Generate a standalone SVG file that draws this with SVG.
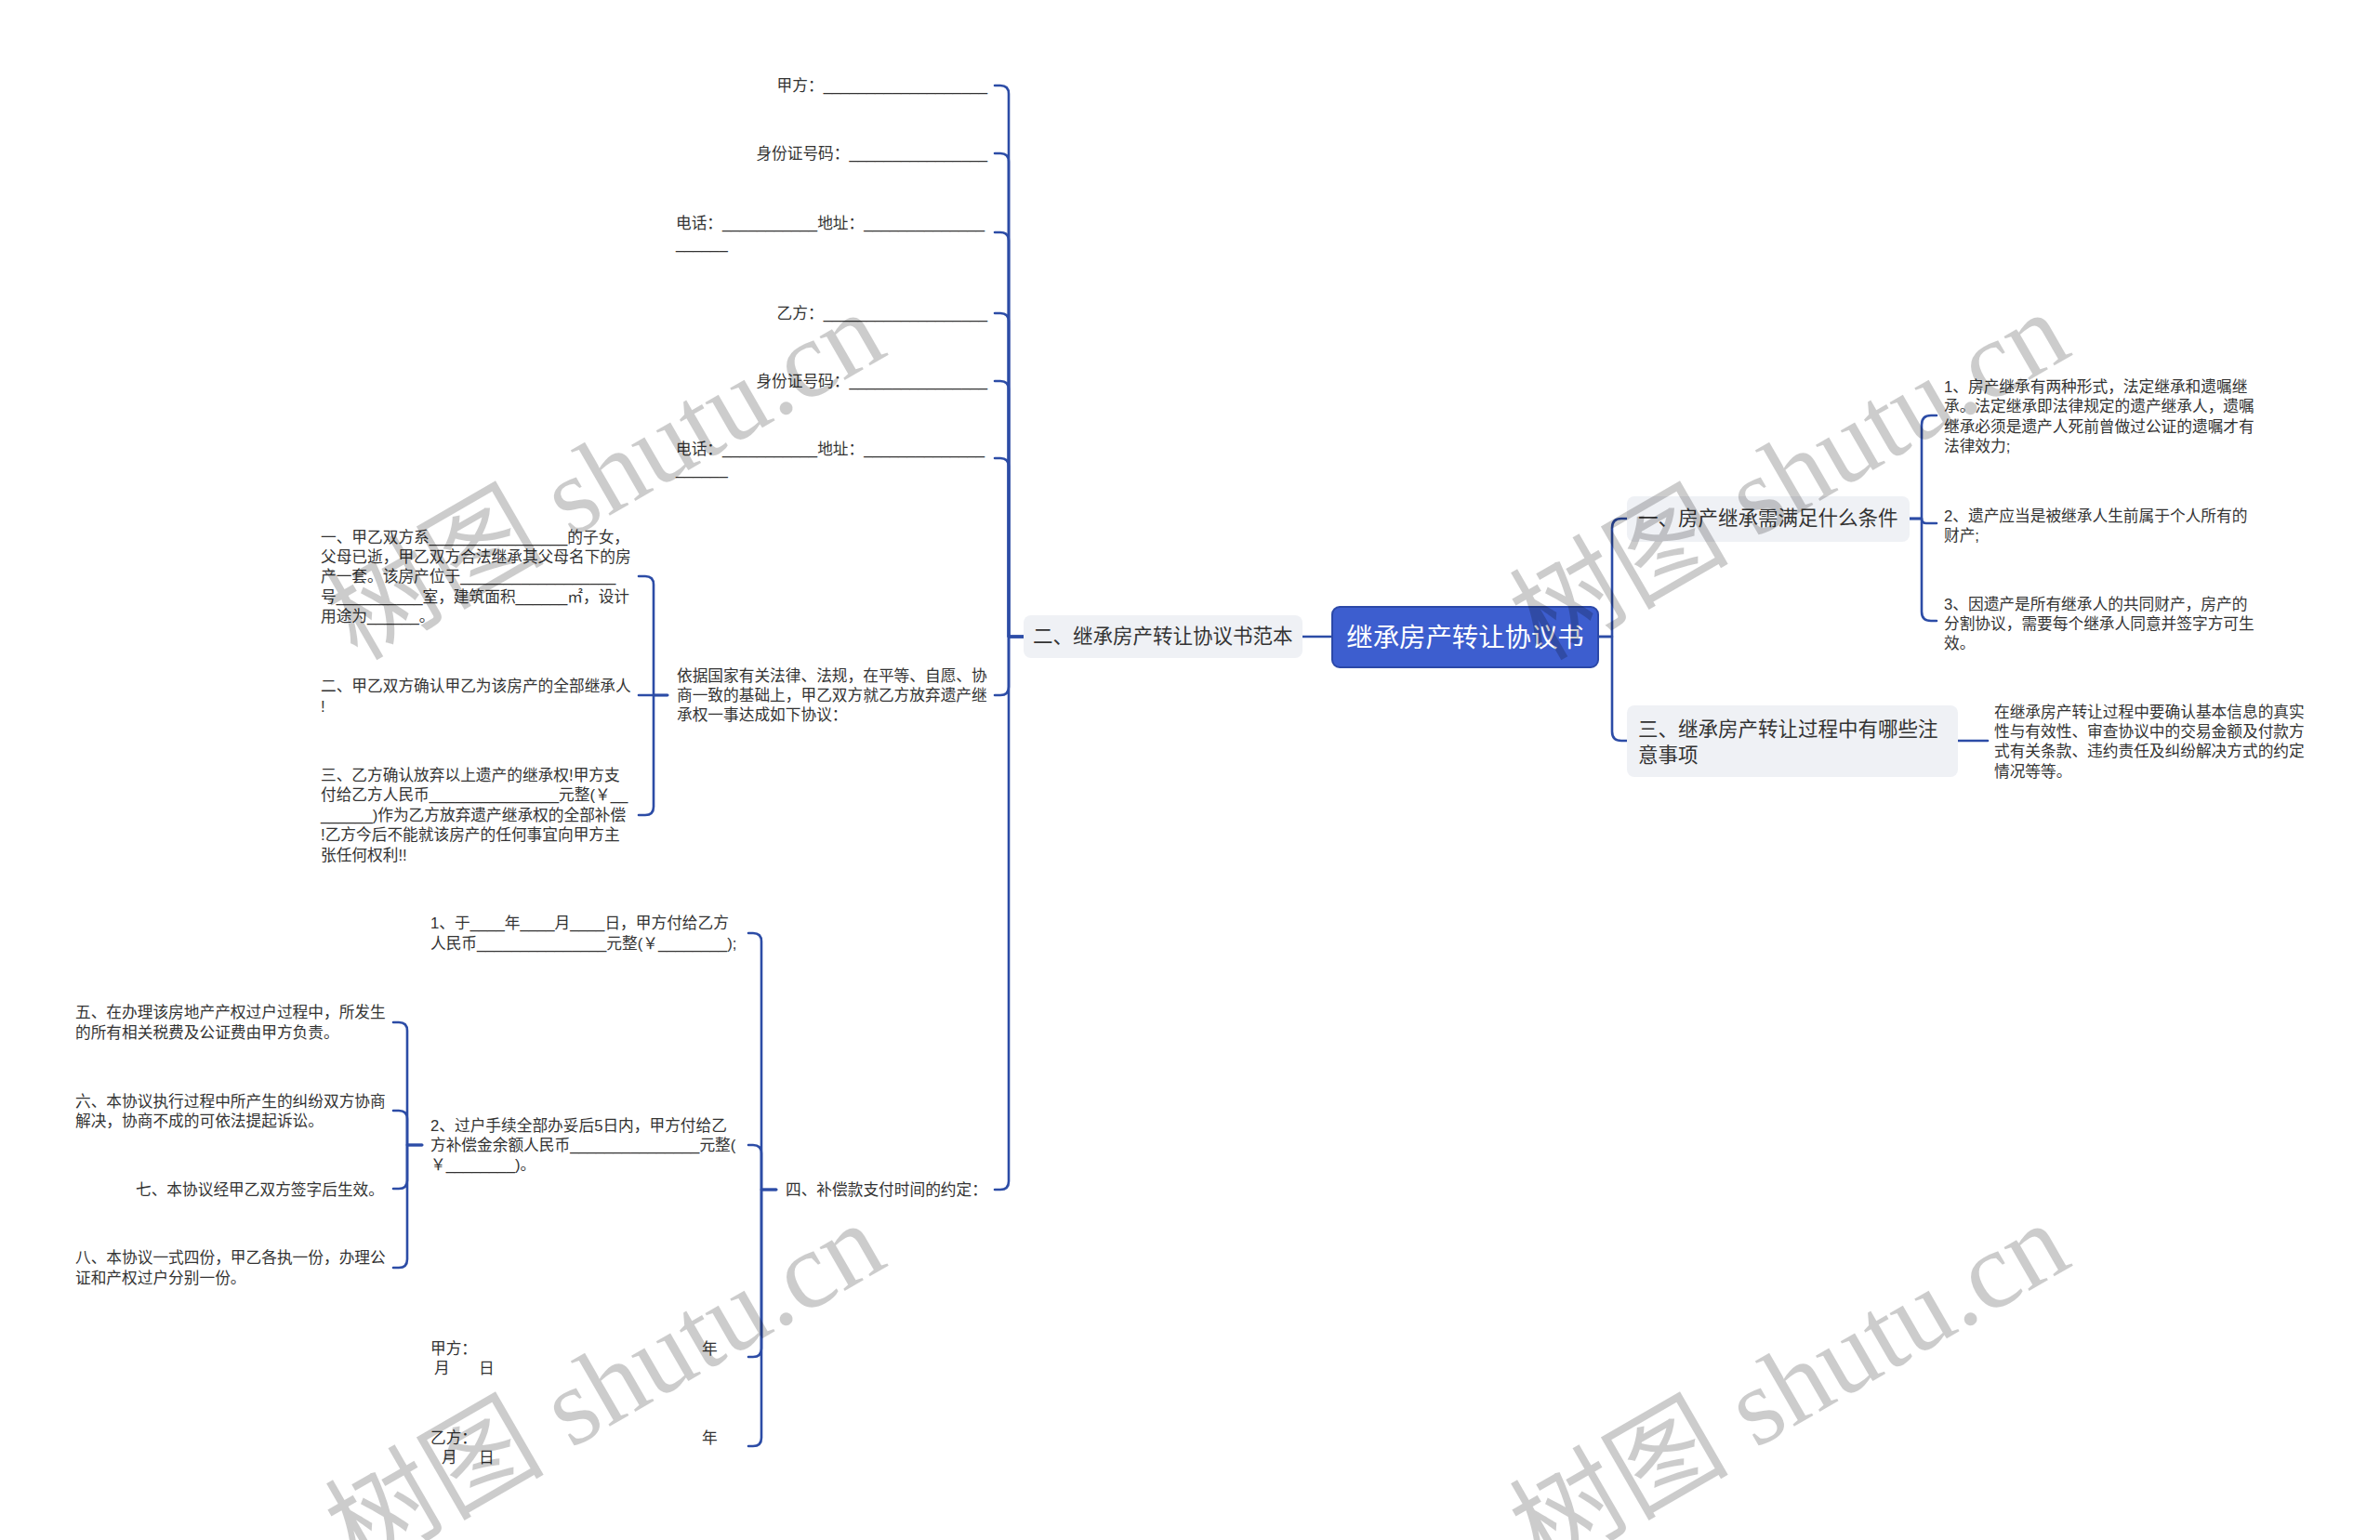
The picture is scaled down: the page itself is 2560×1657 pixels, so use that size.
<svg xmlns="http://www.w3.org/2000/svg" width="2560" height="1657" viewBox="0 0 2560 1657">
<style>
.t{font-family:"Liberation Sans","Noto Sans CJK SC",sans-serif;font-size:16.7px;fill:#333;dominant-baseline:central}
.n{font-family:"Liberation Sans","Noto Sans CJK SC",sans-serif;font-size:21.5px;fill:#333;dominant-baseline:central}
.r{font-family:"Liberation Sans","Noto Sans CJK SC",sans-serif;font-size:28.4px;fill:#fff;dominant-baseline:central;text-anchor:middle}
.box{fill:#eff1f5}
.c path{fill:none;stroke:#2c4ca6;stroke-width:2.6;stroke-linecap:round;stroke-linejoin:round}
.wm{font-family:"Liberation Serif","Noto Sans CJK SC",serif;font-size:118px;fill:#000;fill-opacity:0.2;text-anchor:middle;dominant-baseline:central}
</style>
<rect width="2560" height="1657" fill="#fff"/>
<g class="c" id="connectors">
<path d="M1719,685 H1734 V568 Q1734,558 1744,558 H1750"/>
<path d="M1719,685 H1734 V787 Q1734,797 1744,797 H1750"/>
<path d="M2054,558 H2067 V457 Q2067,447 2077,447 H2083"/>
<path d="M2054,558 H2067 Q2067,563 2072,563 H2083"/>
<path d="M2054,558 H2067 V658 Q2067,668 2077,668 H2083"/>
<path d="M2106,797 H2138"/>
<path d="M1433,685 H1401"/>
<path d="M1101,685 H1085 V101 Q1085,92 1076,92 H1070"/>
<path d="M1101,685 H1085 V174 Q1085,165 1076,165 H1070"/>
<path d="M1101,685 H1085 V259 Q1085,250 1076,250 H1070"/>
<path d="M1101,685 H1085 V346 Q1085,337 1076,337 H1070"/>
<path d="M1101,685 H1085 V419 Q1085,410 1076,410 H1070"/>
<path d="M1101,685 H1085 V502 Q1085,493 1076,493 H1070"/>
<path d="M1101,685 H1085 V739 Q1085,748 1076,748 H1070"/>
<path d="M1101,685 H1085 V1271 Q1085,1280 1076,1280 H1070"/>
<path d="M718,748 H703 V629 Q703,620 694,620 H687"/>
<path d="M718,748 H687"/>
<path d="M718,748 H703 V868 Q703,877 694,877 H687"/>
<path d="M835,1280 H819 V1013 Q819,1004 810,1004 H805"/>
<path d="M835,1280 H819 V1241 Q819,1232 810,1232 H805"/>
<path d="M835,1280 H819 V1451 Q819,1460 810,1460 H805"/>
<path d="M835,1280 H819 V1547 Q819,1556 810,1556 H805"/>
<path d="M454,1232 H438 V1109 Q438,1100 429,1100 H423"/>
<path d="M454,1232 H438 V1204 Q438,1195 429,1195 H423"/>
<path d="M454,1232 H438 V1270 Q438,1279 429,1279 H423"/>
<path d="M454,1232 H438 V1355 Q438,1364 429,1364 H423"/>
</g>
<g id="root"><rect x="1433" y="653" width="286" height="65" rx="8" fill="#3d5ecf" stroke="#2b48a8" stroke-width="2"/><text class="r" x="1576" y="686">继承房产转让协议书</text></g>
<g id="n1"><rect class="box" x="1750" y="534" width="304" height="49" rx="8"/><text class="n" x="1762" y="558">一、房产继承需满足什么条件</text></g>
<g id="n1c1"><text class="t" x="2091"><tspan x="2091" y="416">1、房产继承有两种形式，法定继承和遗嘱继</tspan><tspan x="2091" y="437">承。法定继承即法律规定的遗产继承人，遗嘱</tspan><tspan x="2091" y="459">继承必须是遗产人死前曾做过公证的遗嘱才有</tspan><tspan x="2091" y="480">法律效力;</tspan></text></g>
<g id="n1c2"><text class="t"><tspan x="2091" y="555">2、遗产应当是被继承人生前属于个人所有的</tspan><tspan x="2091" y="576">财产;</tspan></text></g>
<g id="n1c3"><text class="t"><tspan x="2091" y="650">3、因遗产是所有继承人的共同财产，房产的</tspan><tspan x="2091" y="671">分割协议，需要每个继承人同意并签字方可生</tspan><tspan x="2091" y="692">效。</tspan></text></g>
<g id="n3"><rect class="box" x="1750" y="759" width="356" height="77" rx="8"/><text class="n"><tspan x="1762" y="785">三、继承房产转让过程中有哪些注</tspan><tspan x="1762" y="813">意事项</tspan></text></g>
<g id="n3c1"><text class="t"><tspan x="2145" y="766">在继承房产转让过程中要确认基本信息的真实</tspan><tspan x="2145" y="787">性与有效性、审查协议中的交易金额及付款方</tspan><tspan x="2145" y="808">式有关条款、违约责任及纠纷解决方式的约定</tspan><tspan x="2145" y="830">情况等等。</tspan></text></g>
<g id="n2"><rect class="box" x="1101" y="662" width="300" height="46" rx="8"/><text class="n" x="1111" y="685">二、继承房产转让协议书范本</text></g>
<g id="a1"><text class="t" x="1062" y="92" text-anchor="end">甲方：___________________</text></g>
<g id="a2"><text class="t" x="1062" y="165" text-anchor="end">身份证号码：________________</text></g>
<g id="a3"><text class="t"><tspan x="727" y="240">电话：___________地址：______________</tspan><tspan x="727" y="262">______</tspan></text></g>
<g id="a4"><text class="t" x="1062" y="337" text-anchor="end">乙方：___________________</text></g>
<g id="a5"><text class="t" x="1062" y="410" text-anchor="end">身份证号码：________________</text></g>
<g id="a6"><text class="t"><tspan x="727" y="483">电话：___________地址：______________</tspan><tspan x="727" y="505">______</tspan></text></g>
<g id="a7"><text class="t"><tspan x="728" y="727">依据国家有关法律、法规，在平等、自愿、协</tspan><tspan x="728" y="748">商一致的基础上，甲乙双方就乙方放弃遗产继</tspan><tspan x="728" y="769">承权一事达成如下协议：</tspan></text></g>
<g id="a7c1"><text class="t"><tspan x="345" y="578">一、甲乙双方系________________的子女，</tspan><tspan x="345" y="599">父母已逝，甲乙双方合法继承其父母名下的房</tspan><tspan x="345" y="620">产一套。该房产位于__________________</tspan><tspan x="345" y="642">号__________室，建筑面积______㎡，设计</tspan><tspan x="345" y="663">用途为______。</tspan></text></g>
<g id="a7c2"><text class="t"><tspan x="345" y="738">二、甲乙双方确认甲乙为该房产的全部继承人</tspan><tspan x="345" y="760">!</tspan></text></g>
<g id="a7c3"><text class="t"><tspan x="345" y="834">三、乙方确认放弃以上遗产的继承权!甲方支</tspan><tspan x="345" y="855">付给乙方人民币_______________元整(￥__</tspan><tspan x="345" y="877">______)作为乙方放弃遗产继承权的全部补偿</tspan><tspan x="345" y="898">!乙方今后不能就该房产的任何事宜向甲方主</tspan><tspan x="345" y="920">张任何权利!!</tspan></text></g>
<g id="a8"><text class="t" x="845" y="1280">四、补偿款支付时间的约定：</text></g>
<g id="a8c1"><text class="t"><tspan x="463" y="993">1、于____年____月____日，甲方付给乙方</tspan><tspan x="463" y="1015">人民币_______________元整(￥________);</tspan></text></g>
<g id="a8c2"><text class="t"><tspan x="463" y="1211">2、过户手续全部办妥后5日内，甲方付给乙</tspan><tspan x="463" y="1232">方补偿金余额人民币_______________元整(</tspan><tspan x="463" y="1253">￥________)。</tspan></text></g>
<g id="a8c3"><text class="t"><tspan x="463" y="1451">甲方：</tspan><tspan x="755" y="1451">年</tspan><tspan x="467" y="1472">月</tspan><tspan x="515" y="1472">日</tspan></text></g>
<g id="a8c4"><text class="t"><tspan x="463" y="1547">乙方：</tspan><tspan x="755" y="1547">年</tspan><tspan x="475" y="1568">月</tspan><tspan x="515" y="1568">日</tspan></text></g>
<g id="b1"><text class="t"><tspan x="81" y="1089">五、在办理该房地产产权过户过程中，所发生</tspan><tspan x="81" y="1111">的所有相关税费及公证费由甲方负责。</tspan></text></g>
<g id="b2"><text class="t"><tspan x="81" y="1185">六、本协议执行过程中所产生的纠纷双方协商</tspan><tspan x="81" y="1206">解决，协商不成的可依法提起诉讼。</tspan></text></g>
<g id="b3"><text class="t" x="146" y="1280">七、本协议经甲乙双方签字后生效。</text></g>
<g id="b4"><text class="t"><tspan x="81" y="1353">八、本协议一式四份，甲乙各执一份，办理公</tspan><tspan x="81" y="1375">证和产权过户分别一份。</tspan></text></g>
<g id="watermark">
<text class="wm" transform="translate(651,512) rotate(-30)">树图 shutu.cn</text>
<text class="wm" transform="translate(1925,512) rotate(-30)">树图 shutu.cn</text>
<text class="wm" transform="translate(651,1492) rotate(-30)">树图 shutu.cn</text>
<text class="wm" transform="translate(1925,1492) rotate(-30)">树图 shutu.cn</text>
</g>
</svg>
